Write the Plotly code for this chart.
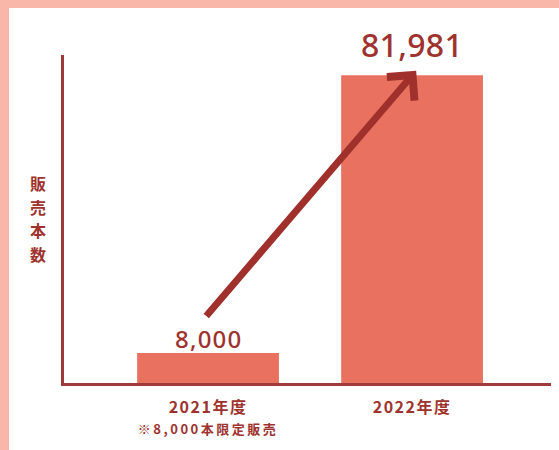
import plotly.graph_objects as go

categories = ["2021年度", "2022年度"]
sub_labels = ["※8,000本限定販売", ""]
values = [8000, 81981]
value_labels = ["8,000", "81,981"]
y_title = "販売本数"

BAR = "#E8725F"
DARK = "#9E322E"
PINK = "#F9B7AA"
FONT = "Noto Sans CJK JP"
NUMFONT = "Noto Sans"

ticktext = [
    "<span style='letter-spacing:1.5px'><b>" + c + "</b></span>"
    + ("<br><span style='font-size:13px;letter-spacing:2.5px'><b>" + s + "</b></span>" if s else "")
    for c, s in zip(categories, sub_labels)
]

fig = go.Figure()
fig.add_trace(go.Bar(
    x=categories, y=values, marker=dict(color=BAR, line=dict(width=0)),
    width=0.695, hoverinfo="skip",
))

# value labels
sizes = [24, 32]
shifts = [14, 31]
spacing = [1.2, 0.3]
for c, v, t, s, sh, sp in zip(categories, values, value_labels, sizes, shifts, spacing):
    fig.add_annotation(x=c, y=v, text="<span style='letter-spacing:%spx'>%s</span>" % (sp, t),
                       showarrow=False, yanchor="middle",
                       yshift=sh, font=dict(family=NUMFONT, size=s, color=DARK, weight=500))

# growth arrow
fig.add_annotation(
    x=1.02, y=values[1] * 1.015, ax=-0.015, ay=values[0] * 2.18,
    xref="x", yref="y", axref="x", ayref="y",
    text="", showarrow=True, arrowhead=4, arrowsize=1.0, arrowwidth=7,
    arrowcolor="#A0302B", standoff=0,
)

# vertical y-axis title
for i, ch in enumerate(y_title):
    fig.add_annotation(
        xref="paper", yref="paper",
        x=(38 - 64) / 487, y=(383 - (183 + i * 23.5)) / 328,
        text="<b>" + ch + "</b>", showarrow=False, xanchor="center", yanchor="middle",
        font=dict(family=FONT, size=16, color=DARK),
    )

# pink frame (top and left)
fig.add_shape(type="rect", xref="paper", yref="paper",
              x0=-64 / 487, x1=(-64 + 9) / 487, y0=-67 / 328, y1=(328 + 55) / 328,
              fillcolor=PINK, line=dict(width=0), layer="below")
fig.add_shape(type="rect", xref="paper", yref="paper",
              x0=-64 / 487, x1=(487 + 8) / 487, y0=(328 + 47) / 328, y1=(328 + 55) / 328,
              fillcolor=PINK, line=dict(width=0), layer="below")

fig.update_layout(
    width=559, height=450,
    margin=dict(l=64, r=8, t=55, b=67),
    paper_bgcolor="white", plot_bgcolor="white",
    showlegend=False,
    font=dict(family=FONT, color=DARK),
    xaxis=dict(
        type="category", range=[-0.706, 1.681],
        tickmode="array", tickvals=categories, ticktext=ticktext,
        tickfont=dict(family=FONT, size=16, color=DARK),
        ticklabelstandoff=8,
        showline=True, linecolor="#A03A3A", linewidth=2.5,
        showgrid=False, ticks="", ticklen=0, fixedrange=True,
    ),
    yaxis=dict(
        range=[0, 87400], showticklabels=False, showgrid=False, zeroline=False,
        showline=True, linecolor="#A03A3A", linewidth=2.5, ticks="",
    ),
)

fig.write_html("out.html")
